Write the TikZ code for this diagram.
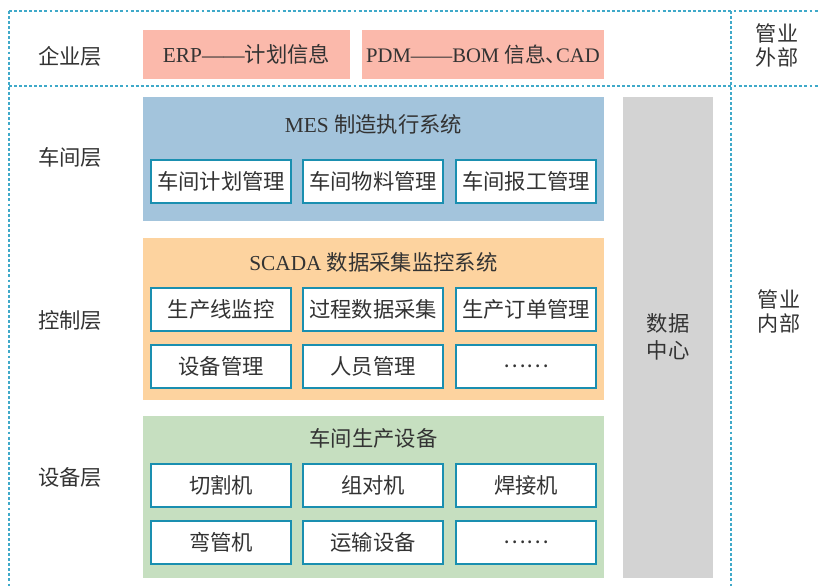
\documentclass[tikz,border=0pt]{standalone}
\usepackage{fontspec}
\setmainfont{Liberation Serif}
\newfontfamily\cjk{Noto Sans CJK SC}
\definecolor{dashc}{HTML}{3FA9C9}
\definecolor{salmon}{HTML}{FBB9AB}
\definecolor{mesblue}{HTML}{A3C4DC}
\definecolor{peach}{HTML}{FDD39F}
\definecolor{eqgreen}{HTML}{C6DFC0}
\definecolor{dcgray}{HTML}{D3D3D3}
\definecolor{subedge}{HTML}{1A8FB0}
\definecolor{txt}{HTML}{333333}
\tikzset{
  divider/.style={draw=dashc, line width=0.9pt, dash pattern=on 2.2pt off 1.6pt},
  panel/.style={fill=#1, draw=none, inner sep=0pt, outer sep=0pt},
  subbox/.style={fill=white, draw=subedge, line width=0.9pt, inner sep=0pt,
    minimum width=105pt, minimum height=32.25pt, font=\fontsize{16}{19}\cjk, text=txt},
  layerlabel/.style={font=\fontsize{16}{19}\cjk, text=txt, inner sep=0pt},
  titletext/.style={font=\fontsize{16}{19}\selectfont, text=txt, inner sep=0pt},
  sidelabel/.style={font=\fontsize{15.8}{17.5}\cjk, text=txt, align=center, inner sep=0pt},
}
\begin{document}
\begin{tikzpicture}[x=0.75pt,y=-0.75pt]
\useasboundingbox (0,0) rectangle (819,587);
% dividers
\draw[divider] (9,11) -- (819,11);
\draw[divider] (9,86) -- (819,86);
\draw[divider] (9,11) -- (9,587);
\draw[divider] (731,11) -- (731,587);
% enterprise layer
\node[panel=salmon, minimum width=155.25pt, minimum height=36.75pt] (erp) at (246.5,54.5) {};
\node[titletext] (erpt) at (erp.center) {ERP——{\cjk 计划信息}};
\node[panel=salmon, minimum width=181.5pt, minimum height=36.75pt] (pdm) at (483,54.5) {};
\node[titletext, font=\fontsize{15.5}{18}\selectfont] (pdmt) at (pdm.center) {PDM——BOM {\cjk 信息、}\kern-0.5em CAD};
% MES
\node[panel=mesblue, minimum width=345.75pt, minimum height=93pt] (mes) at (373.5,159) {};
\node[titletext] (mest) at (373.5,124) {MES {\cjk 制造执行系统}};
\node[subbox] (m1) at (221,181.5) {车间计划管理};
\node[subbox] (m2) at (373,181.5) {车间物料管理};
\node[subbox] (m3) at (526,181.5) {车间报工管理};
% SCADA
\node[panel=peach, minimum width=345.75pt, minimum height=121.5pt] (scada) at (373.5,319) {};
\node[titletext] (scadat) at (373.5,262) {SCADA {\cjk 数据采集监控系统}};
\node[subbox] (s1) at (221,309.5) {生产线监控};
\node[subbox] (s2) at (373,309.5) {过程数据采集};
\node[subbox] (s3) at (526,309.5) {生产订单管理};
\node[subbox] (s4) at (221,366.5) {设备管理};
\node[subbox] (s5) at (373,366.5) {人员管理};
\node[subbox] (s6) at (526,366.5) {……};
% equipment
\node[panel=eqgreen, minimum width=345.75pt, minimum height=121.5pt] (eq) at (373.5,497) {};
\node[titletext, font=\fontsize{16}{19}\cjk] (eqt) at (373.5,438) {车间生产设备};
\node[subbox] (e1) at (221,485.5) {切割机};
\node[subbox] (e2) at (373,485.5) {组对机};
\node[subbox] (e3) at (526,485.5) {焊接机};
\node[subbox] (e4) at (221,542.5) {弯管机};
\node[subbox] (e5) at (373,542.5) {运输设备};
\node[subbox] (e6) at (526,542.5) {……};
% data centre
\node[panel=dcgray, minimum width=67.5pt, minimum height=360.75pt] (dc) at (668,337.5) {};
\node[sidelabel, font=\fontsize{16}{20.25}\cjk] (dct) at (668,337) {数据\\中心};
% layer labels
\node[layerlabel] (l1) at (70,56) {企业层};
\node[layerlabel] (l2) at (70,157) {车间层};
\node[layerlabel] (l3) at (70,320) {控制层};
\node[layerlabel] (l4) at (70,477) {设备层};
% side labels
\node[sidelabel] (ext) at (777,45.5) {管业\\外部};
\node[sidelabel] (int) at (779,311.5) {管业\\内部};
\end{tikzpicture}
\end{document}
